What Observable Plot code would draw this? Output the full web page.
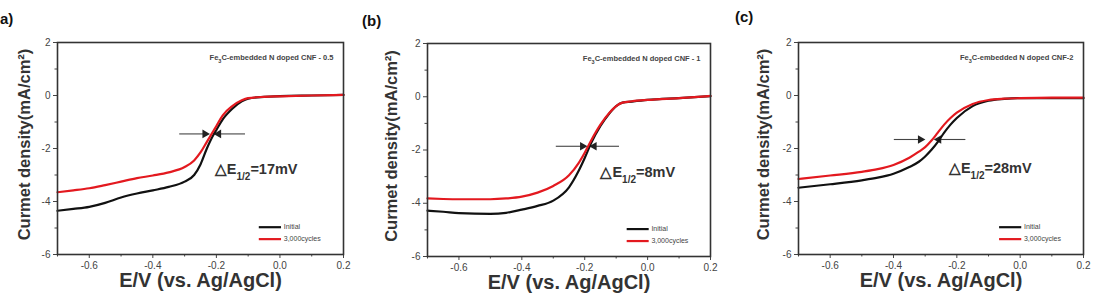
<!DOCTYPE html>
<html>
<head>
<meta charset="utf-8">
<script src="https://cdn.jsdelivr.net/npm/d3@7"></script>
<script src="https://cdn.jsdelivr.net/npm/@observablehq/plot@0.6"></script>
<style>
  html, body { margin: 0; padding: 0; background: #fff; }
  #fig { position: relative; width: 1094px; height: 299px; overflow: hidden; font-family: Arial, "Liberation Sans", sans-serif; }
  #fig svg { position: absolute; top: 0; }
  .plabel { position: absolute; font-weight: bold; font-size: 15px; color: #111; }
</style>
</head>
<body>
<div id="fig"></div>
<script>
// ---- data ----
const potentials = [-0.7, -0.65, -0.6, -0.55, -0.5, -0.45, -0.4, -0.35, -0.3, -0.27, -0.25, -0.23, -0.21, -0.2, -0.18, -0.15, -0.12, -0.1, -0.05, 0, 0.1, 0.2];
const initialA  = [-4.35, -4.28, -4.2, -4.05, -3.85, -3.7, -3.58, -3.45, -3.25, -3.0, -2.6, -2.0, -1.5, -1.3, -0.9, -0.5, -0.22, -0.12, -0.05, -0.02, 0.0, 0.02];
const cyclesA   = [-3.65, -3.58, -3.5, -3.38, -3.25, -3.12, -3.02, -2.9, -2.7, -2.45, -2.15, -1.75, -1.35, -1.15, -0.75, -0.4, -0.18, -0.1, -0.05, -0.03, 0.0, 0.02];

const potentialsB = [-0.7, -0.65, -0.6, -0.5, -0.45, -0.4, -0.35, -0.3, -0.25, -0.22, -0.2, -0.18, -0.15, -0.12, -0.1, -0.08, -0.05, 0, 0.1, 0.2];
const initialB  = [-4.28, -4.32, -4.37, -4.4, -4.36, -4.24, -4.1, -3.9, -3.4, -2.8, -2.3, -1.75, -1.1, -0.6, -0.35, -0.22, -0.18, -0.12, -0.05, 0.02];
const cyclesB   = [-3.82, -3.84, -3.85, -3.85, -3.82, -3.75, -3.6, -3.35, -2.95, -2.5, -2.1, -1.65, -1.05, -0.58, -0.35, -0.22, -0.17, -0.12, -0.05, 0.03];

const potentialsC = [-0.7, -0.6, -0.5, -0.45, -0.4, -0.35, -0.32, -0.3, -0.28, -0.26, -0.24, -0.22, -0.2, -0.15, -0.1, -0.05, 0, 0.1, 0.2];
const initialC  = [-3.48, -3.35, -3.2, -3.1, -2.95, -2.7, -2.5, -2.3, -2.05, -1.75, -1.4, -1.1, -0.85, -0.4, -0.2, -0.13, -0.1, -0.1, -0.1];
const cyclesC   = [-3.15, -3.02, -2.88, -2.78, -2.62, -2.35, -2.12, -1.95, -1.7, -1.4, -1.1, -0.85, -0.65, -0.32, -0.17, -0.12, -0.1, -0.08, -0.08];

const seriesNames = ["Initial", "3,000cycles"];
const panelLetters = ["a)", "(b)", "(c)"];
// sample names: [before subscript, subscript, after]
const sampleNames = [["Fe", "3", "C-embedded N doped CNF - 0.5"], ["Fe", "3", "C-embedded N doped CNF - 1"], ["Fe", "3", "C-embedded N doped CNF-2"]];
const deltaLabels = [["\u25B3E", "1/2", "=17mV"], ["\u25B3E", "1/2", "=8mV"], ["\u25B3E", "1/2", "=28mV"]];
// arrow annotation values: [y, leftStart, leftTip, rightStart, rightTip]
const arrowVals = [[-1.45, -0.317, -0.236, -0.11, -0.193], [-1.86, -0.292, -0.207, -0.091, -0.17], [-1.66, -0.399, -0.315, -0.173, -0.257]];
// delta label positions [x, y]
const deltaPos = [[-0.205, -2.8], [-0.15, -2.84], [-0.225, -2.75]];

const xTicks = [-0.6, -0.4, -0.2, 0.0, 0.2];
const xMinor = [-0.7, -0.5, -0.3, -0.1, 0.1];
const yTicks = [2, 0, -2, -4, -6];
const yMinor = [1, -1, -3, -5];
const xLabel = "E/V (vs. Ag/AgCl)";
const yLabel = "Curmet density(mA/cm\u00B2)";

const colors = ["#111111", "#e3191f"];

function rows(xs, ys, s) { return xs.map((x, i) => ({x, y: ys[i], s})); }

const panels = [
  {left: 0, width: 360, ml: 57, mr: 17, mt: 42, mb: 45, ydx: -33,
   data: [...rows(potentials, initialA, seriesNames[0]), ...rows(potentials, cyclesA, seriesNames[1])]},
  {left: 360, width: 365, ml: 67, mr: 15, mt: 43, mb: 43, ydx: -36,
   data: [...rows(potentialsB, initialB, seriesNames[0]), ...rows(potentialsB, cyclesB, seriesNames[1])]},
  {left: 725, width: 369, ml: 73, mr: 11, mt: 42, mb: 45, ydx: -35,
   data: [...rows(potentialsC, initialC, seriesNames[0]), ...rows(potentialsC, cyclesC, seriesNames[1])]}
];
const letterPos = [[0, 10], [362, 12], [735, 8]];

const fig = document.getElementById("fig");
const font = "Arial, 'Liberation Sans', sans-serif";

function subscriptify(svg, parts, subSize) {
  const full = parts.join("");
  d3.select(svg).selectAll("text").filter(function () { return this.textContent === full; }).each(function () {
    const t = d3.select(this);
    t.text(null);
    t.append("tspan").text(parts[0]);
    t.append("tspan").attr("baseline-shift", "sub").attr("font-size", subSize).text(parts[1]);
    t.append("tspan").text(parts[2]);
  });
}

panels.forEach((p, i) => {
  const av = arrowVals[i];
  const arrows = [
    {x1: av[1], x2: av[2], y: av[0], rot: 90},
    {x1: av[3], x2: av[4], y: av[0], rot: -90}
  ];
  const legend = seriesNames.map((s, k) => ({s, k}));
  const chart = Plot.plot({
    width: p.width, height: 299,
    marginLeft: p.ml, marginRight: p.mr, marginTop: p.mt, marginBottom: p.mb,
    style: {fontFamily: font, background: "transparent", overflow: "visible"},
    x: {domain: [-0.7, 0.2]},
    y: {domain: [-6, 2]},
    color: {domain: seriesNames, range: colors},
    marks: [
      Plot.axisX({ticks: xTicks, tickSize: 4, tickPadding: 3, tickFormat: d => d.toFixed(1), fontSize: 10, color: "#444", label: null}),
      Plot.axisX({ticks: xMinor, tickSize: 2.5, tickFormat: () => "", label: null, color: "#444"}),
      Plot.axisY({ticks: yTicks, tickSize: 4, tickPadding: 3, tickFormat: d => String(d), fontSize: 10, color: "#444", label: null}),
      Plot.axisY({ticks: yMinor, tickSize: 2.5, tickFormat: () => "", label: null, color: "#444"}),
      Plot.link(arrows, {x1: "x1", x2: "x2", y1: "y", y2: "y", stroke: "#444", strokeWidth: 1.1}),
      Plot.dot(arrows, {x: "x2", y: "y", symbol: "triangle", rotate: "rot", r: 3.2, fill: "#222", stroke: null}),
      Plot.line(p.data, {x: "x", y: "y", stroke: "s", z: "s", strokeWidth: 2.2, curve: "monotone-x"}),
      Plot.frame({stroke: "#333", strokeWidth: 1.6}),
      Plot.text([sampleNames[i].join("")], {frameAnchor: "top-right", dx: -10, dy: 12, fontSize: 7.5, fontWeight: 600, fill: "#444", textAnchor: "end"}),
      Plot.text([deltaLabels[i].join("")], {x: deltaPos[i][0], y: deltaPos[i][1], fontSize: 14.5, fontWeight: "bold", fill: "#333", textAnchor: "start"}),
      Plot.ruleY(legend, {x1: -0.065, x2: 0.005, y: d => -4.97 - 0.45 * d.k, stroke: d => d.s, strokeWidth: 2.2}),
      Plot.text(legend, {x: 0.012, y: d => -4.97 - 0.45 * d.k, text: "s", fontSize: 7, fill: "#444", textAnchor: "start"}),
      Plot.text([xLabel], {frameAnchor: "bottom", dy: 18, lineAnchor: "top", fontSize: 20, fontWeight: "bold", fill: "#333"}),
      Plot.text([yLabel], {frameAnchor: "left", dx: p.ydx, dy: -4, rotate: -90, textAnchor: "middle", fontSize: 16.5, fontWeight: "bold", fill: "#333"})
    ]
  });
  subscriptify(chart, sampleNames[i], 5.5);
  subscriptify(chart, deltaLabels[i], 10);
  chart.style.left = p.left + "px";
  fig.appendChild(chart);
  const lab = document.createElement("div");
  lab.className = "plabel";
  lab.textContent = panelLetters[i];
  lab.style.left = letterPos[i][0] + "px";
  lab.style.top = letterPos[i][1] + "px";
  fig.appendChild(lab);
});
</script>
</body>
</html>
